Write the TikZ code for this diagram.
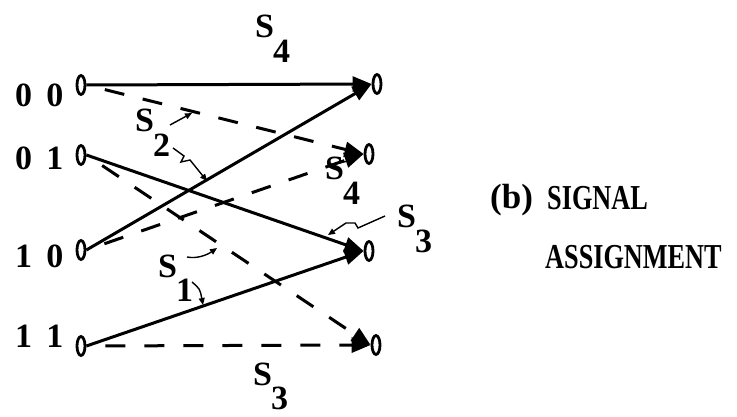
\documentclass[tikz,border=0pt]{standalone}
\usepackage{fontspec}
\setmainfont{Liberation Serif}
\newfontfamily\capfont[FakeStretch=0.75]{Liberation Serif}
\usetikzlibrary{arrows.meta,shapes.geometric}
\newcommand\Slab[1]{S\kern-1pt\raisebox{-0.72em}{#1}}
\begin{document}
\begin{tikzpicture}[x=1pt,y=-1pt,
  oval/.style={ellipse,draw,line width=2.8pt,minimum width=8pt,minimum height=19pt,inner sep=0pt},
  edge/.style={line width=3pt,-{Triangle[length=19pt,width=15pt]}},
  dashedge/.style={edge,dash pattern=on 20pt off 19pt,dash phase=20pt},
  ptr/.style={line width=1.4pt,-{Triangle[length=7pt,width=6pt]}},
  lab/.style={inner sep=0pt,anchor=base west,font=\fontsize{34}{40}\selectfont\bfseries},
  captext/.style={inner sep=0pt,anchor=base west,font=\fontsize{35}{40}\selectfont\bfseries},
]
\useasboundingbox (0,0) rectangle (737,417);
% state nodes
\node[oval] (L0) at (81,85) {};
\node[oval] (L1) at (81,155) {};
\node[oval] (L2) at (81,250) {};
\node[oval] (L3) at (81,346) {};
\node[oval] (R0) at (377,84) {};
\node[oval] (R1) at (369,154) {};
\node[oval] (R2) at (369,251) {};
\node[oval] (R3) at (376,345) {};
% left labels
\node[lab] (t0) at (15,107) {0\hspace{0.42em}0};
\node[lab] (t1) at (15,170) {0\hspace{0.42em}1};
\node[lab] (t2) at (15,267) {1\hspace{0.42em}0};
\node[lab] (t3) at (15,347) {1\hspace{0.42em}1};
% transitions
\draw[edge] (L0.east) -- (R0.west);
\draw[dashedge] (L0.east) -- (R1.west);
\draw[edge] (L1.east) -- (R2.west);
\draw[dashedge] (L1.east) -- (R3.west);
\draw[edge] (L2.east) -- (R0.west);
\draw[dashedge] (L2.east) -- (R1.west);
\draw[edge] (L3.east) -- (R2.west);
\draw[dashedge] (L3.east) -- (R3.west);
% signal labels
\node[lab] (s4top) at (255,38) {\Slab{4}};
\node[lab] (s2) at (135,132) {\Slab{2}};
\node[lab] (s4mid) at (325,180) {\Slab{4}};
\node[lab] (s3r) at (397,228) {\Slab{3}};
\node[lab] (s1) at (158,277) {\Slab{1}};
\node[lab] (s3b) at (253,385) {\Slab{3}};
% pointers
\coordinate (p1a) at (170,125); \coordinate (p1b) at (192,113);
\draw[ptr] (p1a) -- (p1b);
\coordinate (p2a) at (173,148); \coordinate (p2b) at (207,181);
\draw[ptr] (p2a) -- (184,156) -- (181,162) -- (190,160) -- (p2b);
\coordinate (p3a) at (339,163); \coordinate (p3b) at (357,159);
\draw[ptr] (p3a) -- (p3b);
\coordinate (p4a) at (385,216); \coordinate (p4b) at (328,235);
\draw[ptr] (p4a) -- (358,228) -- (355,223) -- (346,223) -- (p4b);
\coordinate (p5a) at (187,257); \coordinate (p5b) at (217,248);
\draw[ptr] (p5a) .. controls (197,259) and (207,255) .. (p5b);
\coordinate (p6a) at (192,282); \coordinate (p6b) at (203,305);
\draw[ptr] (p6a) .. controls (200,289) .. (p6b);
% caption
\node[captext] (cb) at (490,208) {(b)};
\node[captext] (c1) at (547,210) {\capfont\bfseries SIGNAL};
\node[captext] (c2) at (545,268) {\capfont\bfseries ASSIGNMENT};
\end{tikzpicture}
\end{document}
